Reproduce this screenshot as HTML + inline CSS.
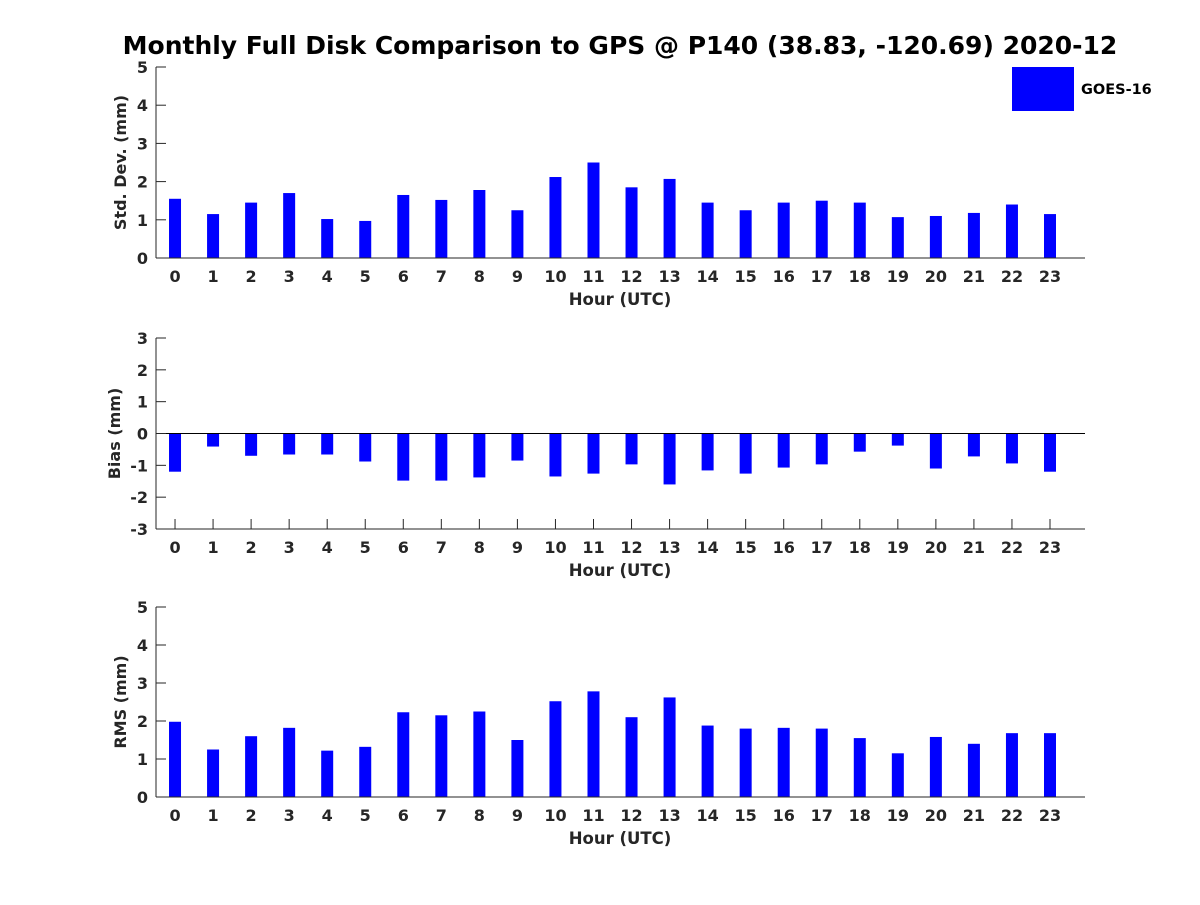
<!DOCTYPE html>
<html><head><meta charset="utf-8"><style>
body{margin:0;background:#fff}
text{font-family:"DejaVu Sans","Liberation Sans",sans-serif;font-weight:bold;fill:#262626}
</style></head><body>
<svg id="c" width="1200" height="900" xmlns="http://www.w3.org/2000/svg">
<rect width="1200" height="900" fill="#fff"/>
<text x="620" y="54" text-anchor="middle" font-size="25" style="fill:#000">Monthly Full Disk Comparison to GPS @ P140 (38.83, -120.69) 2020-12</text>
<rect x="1012" y="67" width="62" height="44" fill="#0000ff"/>
<text x="1081" y="94" font-size="14.5" style="fill:#000">GOES-16</text>
</svg>
<script>
const hours=[0,1,2,3,4,5,6,7,8,9,10,11,12,13,14,15,16,17,18,19,20,21,22,23];
const stdVals=[1.55,1.15,1.45,1.7,1.02,0.97,1.65,1.52,1.78,1.25,2.12,2.5,1.85,2.07,1.45,1.25,1.45,1.5,1.45,1.07,1.1,1.18,1.4,1.15];
const biasVals=[-1.2,-0.41,-0.7,-0.66,-0.66,-0.88,-1.48,-1.48,-1.38,-0.85,-1.35,-1.26,-0.97,-1.6,-1.16,-1.26,-1.07,-0.97,-0.57,-0.38,-1.1,-0.72,-0.94,-1.2];
const rmsVals=[1.98,1.25,1.6,1.82,1.22,1.32,2.23,2.15,2.25,1.5,2.52,2.78,2.1,2.62,1.88,1.8,1.82,1.8,1.55,1.15,1.58,1.4,1.68,1.68];
const stdTicks=[0,1,2,3,4,5];
const biasTicks=[-3,-2,-1,0,1,2,3];
const rmsTicks=[0,1,2,3,4,5];
const svg=document.getElementById('c');
const NS='http://www.w3.org/2000/svg';
function mk(tag,attrs,parent){const e=document.createElementNS(NS,tag);for(const k in attrs)e.setAttribute(k,attrs[k]);(parent||svg).appendChild(e);return e;}
const L=156,R=1085,xmin=-0.5,xmax=23.92;
const xs=v=>L+(v-xmin)/(xmax-xmin)*(R-L);
function panel(name,top,bot,ymin,ymax,ticks,vals,ylabel,zeroLine,ylx){
  const g=mk('g',{});
  
  
  const ys=v=>bot-(v-ymin)/(ymax-ymin)*(bot-top);
  hours.forEach(h=>{mk('line',{x1:xs(h),x2:xs(h),y1:bot,y2:bot-10,stroke:'#262626','stroke-width':1},g);});
  vals.forEach((v,i)=>{
    const y0=ys(0),y1=ys(v);
    const r=mk('rect',{x:xs(hours[i])-6,y:Math.min(y0,y1),width:12,height:Math.abs(y1-y0),fill:'#0000ff'},g);
    
    
  });
  if(zeroLine) mk('line',{x1:L,x2:R,y1:ys(0),y2:ys(0),stroke:'#000','stroke-width':1},g);
  mk('line',{x1:L,x2:L,y1:top,y2:bot,stroke:'#262626','stroke-width':1},g);
  mk('line',{x1:L,x2:R,y1:bot,y2:bot,stroke:'#262626','stroke-width':1},g);
  ticks.forEach(t=>{
    mk('line',{x1:L,x2:L+10,y1:ys(t),y2:ys(t),stroke:'#262626','stroke-width':1},g);
    const tx=mk('text',{x:L-8,y:ys(t)+6,'text-anchor':'end','font-size':16},g);tx.textContent=t;
    
    
  });
  hours.forEach(h=>{
    const tx=mk('text',{x:xs(h),y:bot+24,'text-anchor':'middle','font-size':16},g);tx.textContent=h;
    
    
  });
  const xt=mk('text',{x:620,y:bot+47,'text-anchor':'middle','font-size':16.5},g);xt.textContent='Hour (UTC)';
  
  
  const cy=(top+bot)/2;
  const yt=mk('text',{x:ylx,y:cy,'text-anchor':'middle','font-size':16,transform:'rotate(-90 '+ylx+' '+cy+')'},g);yt.textContent=ylabel;
  
  
}
panel('std',67,258,0,5,stdTicks,stdVals,'Std. Dev. (mm)',false,126);
panel('bias',338,529,-3,3,biasTicks,biasVals,'Bias (mm)',true,120);
panel('rms',607,797,0,5,rmsTicks,rmsVals,'RMS (mm)',false,126);
</script>
</body></html>
